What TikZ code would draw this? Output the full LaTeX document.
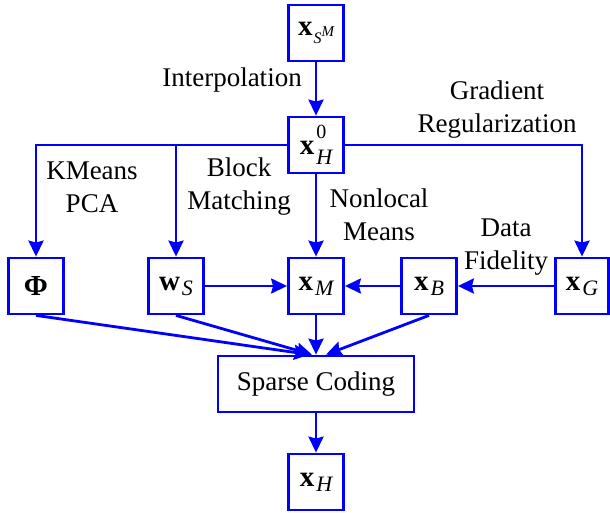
\documentclass[tikz,border=0pt]{standalone}
\usepackage{fontspec}
\setmainfont{Liberation Serif}
\usetikzlibrary{arrows.meta}
\newcommand\sbs[1]{\raisebox{-5pt}{\fontsize{22}{22}\selectfont\itshape #1}}
\begin{document}
\begin{tikzpicture}[x=1pt,y=-1pt,
  every node/.style={font=\fontsize{27}{33}\selectfont},
  vbox/.style={draw=blue,line width=2.8pt,minimum width=55pt,minimum height=56pt,inner sep=0pt,font=\fontsize{29}{29}\selectfont},
  arr/.style={draw=blue,line width=2.8pt,-{Stealth[length=16pt,width=15pt,inset=2pt]}},
  lbl/.style={align=center,inner sep=0pt}]
\path[use as bounding box] (0,0) rectangle (610,512);
\node[vbox] (xsm) at (316,33) {\textbf{x}\kern1pt\raisebox{-8pt}{\fontsize{16}{16}\selectfont\itshape S}\raisebox{-1pt}{\fontsize{15}{15}\selectfont\itshape M}};
\node[vbox] (xh0) at (316,145) {\textbf{x}\kern2pt\rlap{\raisebox{16pt}{\fontsize{20}{20}\selectfont 0}}\raisebox{-10pt}{\fontsize{22}{22}\selectfont\itshape H}};
\node[vbox] (phi) at (36,286) {\textbf{Φ}};
\node[vbox] (ws) at (176,286) {\textbf{w}\kern2pt\sbs{S}};
\node[vbox] (xm) at (316,286) {\textbf{x}\kern2pt\sbs{M}};
\node[vbox] (xb) at (429,286) {\textbf{x}\kern2pt\sbs{B}};
\node[vbox,minimum width=53pt] (xg) at (582,286) {\textbf{x}\kern2pt\sbs{G}};
\node[vbox,minimum width=196pt,font=\fontsize{27}{27}\selectfont] (sc) at (316,384) {Sparse Coding};
\node[vbox] (xh) at (316,482) {\textbf{x}\kern2pt\sbs{H}};
\node[lbl] (linterp) at (232,80) {Interpolation};
\node[lbl] (lgrad) at (497,110) {Gradient\\Regularization};
\node[lbl] (lkm) at (92,187) {KMeans\\PCA};
\node[lbl] (lbm) at (239,187) {Block\\Matching};
\node[lbl] (lnl) at (379,215) {Nonlocal\\Means};
\node[lbl] (ldf) at (506,247) {Data\\Fidelity};
\draw[arr] (xsm) -- (xh0);
\draw[arr] (xh0.west) -| (phi.north);
\draw[arr] (ws.north |- xh0.west) -- (ws.north);
\draw[arr] (xh0.east) -| (xg.north);
\draw[arr] (xh0) -- (xm);
\draw[arr] (ws) -- (xm);
\draw[arr] (xb) -- (xm);
\draw[arr] (xg) -- (xb);
\draw[arr] (phi.south) -- ([xshift=-6pt]sc.north);
\draw[arr] (ws.south) -- ([xshift=-4pt]sc.north);
\draw[arr] (xm.south) -- (sc.north);
\draw[arr] (xb.south) -- ([xshift=10pt]sc.north);
\draw[arr] (sc) -- (xh);
\end{tikzpicture}
\end{document}
